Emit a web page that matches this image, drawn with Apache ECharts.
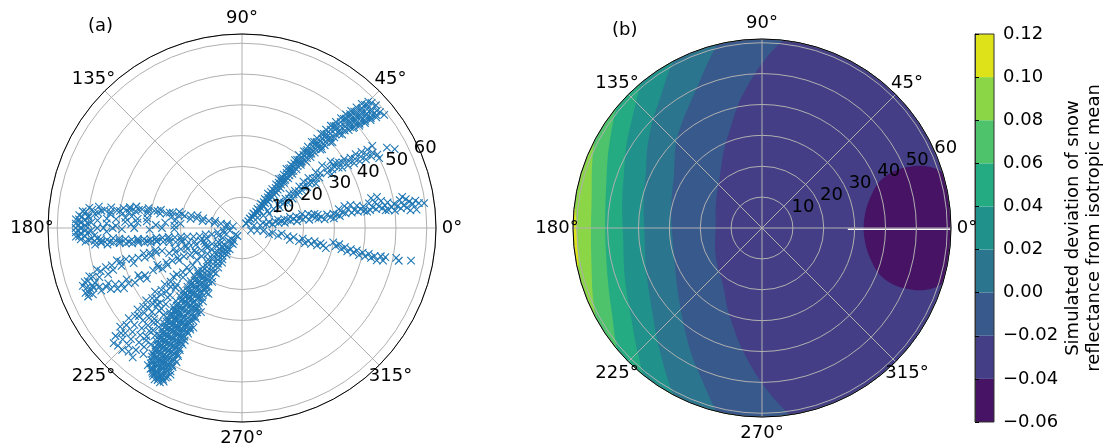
<!DOCTYPE html>
<html><head><meta charset="utf-8">
<style>html,body{margin:0;padding:0;background:#fff}#c{width:1105px;height:448px}</style>
<script src="https://cdn.jsdelivr.net/npm/echarts@6/dist/echarts.min.js"></script>
</head><body><div id="c"></div>
<script>
// ---- panel (a): each row is [zenith, azimuth, azimuth, ...]
const armA=[[2,50,44],[3,47],[4,51,46],[5,49,44],[6,52,47],[7,49,45],[8,51,47,44],[9,49],[10,52,48,45],[11,50,47],[12,52,49,45],[13,50,47],[14,53,49,46],[15,51,47],[16,52,49,46],[17,50,47],[18,52,49,46],[19,51,48],[20,53,50,47],[21,51,48],[22,52,49,47],[23,51,48],[24,53,50,47],[25,51,48],[26,52,50,47],[27,51,48],[28,52,49,47],[29,50,48],[30,52,49,46],[31,50,47],[32,51,49,46],[33,50,47],[34,51,48,46],[35,49,47],[36,51,48,45],[37,49,46],[38,50,48,45],[39,48,46],[40,50,47,44],[41,48,45.5],[42,49.5,47,44.5],[43,48,45],[44,49,46.5,44],[45,47.5,45],[46,48.5,46,43.5],[47,47,44.5,42.5],[48,48,45.5,43],[49,46.5,44,42],[50,47.5,45,42.5],[51,46.5,44,41.5],[52,47,44.5,42],[53,45.5,43,41],[54,46.5,44,41.5],[55,45,42.5,40.5],[56,46,43.5,41],[57,44.5,42,40],[58,45,41],[59,42.5,38.5],
[20.5,51.5,48.5],[24.5,51.5,49],[28.5,51,48],[32.5,50,47.5],[36.5,50,47,44.5],[40.5,49,46,43.5],[44.5,48,45,43],[48.5,47,44.5,42],[50.5,46,43.5,41],[52.5,46,43.5,40.5],[54.5,45,42.5,40],[56.5,45,42.5,39.5],[58.5,44,40]];
const armB=[[6,33],[8,30],[10,34,28],[12,31],[14,33,29],[15,35],[16,31],[17,34,29],[18,32],[19,36,30],[20,33],[21,31,35],[22,33],[23,36,32],[24,34],[25,37,32],[26,34],[27,37,33],[28,35,31],[29,34],[30,37,33],[31,35],[33,38,33],[34,35,31],[35,33],[36,37,34],[37,32,35],[38,31,34],[39,33],[40,30.5,34],[41,32],[42,30,33],[43,31.5],[44,29.5,33],[45,31],[46,29,32.5],[47,30.5],[48,29,32],[49,30],[50,28.5,27,32.2],[53.8,29],[55.8,27.3]];
const armC=[[4,12],[6,8],[7,14],[8,9],[9,12],[10,7],[11,11],[12,8,13],[13,10],[14,7,12],[15,10],[16,8,13],[17,10],[18,7,12],[19,10],[20,8,13],[21,10],[22,7,12],[23,10],[24,8,11],[25,7,10],[26,8],[27,6],[28,9],[29,7],[30,9,6],[31,8],[32,11,7],[33,9],[34,12,8],[35,10],[36,12,8],[37,9],[38,11,8],[39,9],[40,8,10],[41,7.5],[42,11,8],[43,13,9],[44,11,8],[45,13,9],[46,11,8],[47,9,7],[48,10,7],[49,8],[50,9,6.5],[51,8],[52,10,7],[53,11,8],[54,10,7],[55,9,6],[56,8],[57,9,6],[58,8],[59.7,7.8]];
const armD=[[3,345],[5,350],[7,352],[9,347],[10,351],[12,348],[13,352],[15,350],[16,346],[17,350],[19,347],[20,350],[21,346.5],[22,349],[23,347],[24,349.5],[25,347],[26,349],[27,348],[28,346.5],[30,351],[31,349],[32,350.5],[33,348],[34,349.5],[35,347.5],[36,349],[37,347.5],[38,349],[39,347],[40,348.5],[41,347],[42,348.5],[43,347],[44,348],[45,346.5],[46,348.5],[47,347],[47.5,348.5],[51,349],[52,348.2],[55.9,349.1]];
const armE=[[3,170],[5,172,165],[7,168],[9,170,165],[11,168],[13,170,166],[15,168,164],[17,170,166],[19,168],[21,169,165.5],[23,167.5,170.5],[25,169],[27,170,167.5],[29,169],[31,171,168],[33,169.5],[35,171,168.5],[37,172,169.5],[39,170.5,173],[41,172],[43,171,174],[45,172.5],[47,174,171.5],[49,173],[50,175.5,172.5],[51,174],[52,176,174],[53,175.5],
[54,177,178.5,180,181.5,183],[52.5,178,180,182,184],[51,177,179,181,183,185],[49,178,181,184],[47,177,180,184],
[44,176,178,181.5],[41,176,179],[38,177,175],[36,178,174],[34,177,175],[31,174,176],[28,178],[25,176],[22,174,178],[20,176],
[45,180],[42,180],[39,180.5],[35,180],[30,181],[26,180],[22,181],
[48,185,186.5],[46,184.5,186],[44,185,187],[42,184.5,186.5],[40,185,187],[38,185.5,187.5],[36,186,188],[34,186,188],[32,186.5,188.5],[30,187,189],[28,186.5,189],[26,187,190],[24,187,191],[22,188,192],[20,188,193],[18,189,195],[16,190,196],[14,191,197],[12,190,196],[10,192],[8,190,198],[6,188,195],[4,192],
[53,177,179,181,183],[50,176,178.5,181.5,184.5],[48,174.5,183],[46,173,185.5],[43,173,186],[40,172,186],[37,170.5,187],[34,170,187],[31,169.5,188],[28,168.5,188.5],[24,168,189],[20,167,191]];
const armF=[[29,194.2,196],[31,195,197],[33,194.5,197],[35,196],[37,195.6,198],[39,195],[41,195.5,197.5],[42,194.5],[44,196,198],[46,196,199],[48,197],[49,196,199],[51,198,200.5],[52,197.5,201],[53,199,202],[54,199,201,203],[55,200,202.5],[54.7,204],[53,204],[52,202],[25,199],[23,197,200],[21,199],[19,198,201],[16,200],[13,199,203],[27,196]];
const armG=[[50,202.4,204],[48,203.5],[47,205,202.5],[45,204,206],[43,205,207],[41,206,204],[39,207],[37,206.3,204.5],[35,206,208],[32,205.5],[30,205.3,203.5],[29,207],[27,204.5,206.5],[25,205],[23,207.3,205],[21,206],[19,207.5],[17,208,205],[15,209],[13,209.9,207],[11,208],[9,210],[7,207]];
const armH=[[8,214.9],[10,216],[12,215],[14,217],[16,215],[18,215.2],[20,217],[22,215.5],[24,217],[26,215.5],[27.3,215.3],[29,217],[31,216],[33,217.5],[35,216.2],[37,218],[39,217],[41,218.5],[43,217.9],[45,219.5],[47,218.5],[49,220],[50.9,219],[52,221],[54,220.5],[56,221.9],[55.5,223.5,225.5],[54.5,227.5],[55,229.8],[53,223,226],[52.5,229],[51,222,225],[50,228],[49,223.5],[48,226.5],[47,222],[46,225],[46.9,228.7],
[44,220.5,223],[42,221,224],[40,220,223],[38,220.5],[36,219.5,222.5],[34,219.5],[32,220,223],[30,219.5],[28,221],[25,220],[22,219.5],
[37,222,225],[33,223],[29,222],[41,226,228],[44,226,229],[38,225,228],[35,225],[48,229.5,232],[45,228,231],[50,230.5],[52,232],[42,227,230]];
const armI=[[3,225,240],[5,228,238],[6,222,232,240],[8,226,234,240],[9,222,230,237],[10,224,232,240],[11,227,235],[12,222,230,238],[13,225,233,240],[14,227,236],[15,223,231,239],[16,226,234],[17,228,237,240],[18,225,231,235],[19,227,233,239],[20,224,230,236,241],[21,228,234],[22,226,231,237,240],[23,228,233,238],[24,226,230,235,241],[25,228,233,238],[26,227,231,236,240],[27,229,233,238],[28,227,231,235,240],[29,229,233,237,241],[30,228,232,236,240],[31,230,234,238,242],[32,228,232,236,240],[33,230,233,237,241],[34,229,232,235,239,242],[35,231,234,237,240],[36,229,232,235,238,241],[37,231,234,237,240,243],[38,230,233,236,239,242],[39,231,234,237,240],[40,231,234,236,239,242],[41,232,235,238,241,243],[42,232,234.5,237,239.5,242],[43,233,235.5,238,241],[44,232.5,235,237.5,240,242.5],[45,233.5,236,238.5,241],[46,233,235.5,238,240.5,243],[47,234,236.5,239,241.5],[48,234,236,238.5,241,243],[49,235,237,239.5,242],[50,234.5,236.5,238.5,240.5,243],[51,235,237.5,240,242],[52,235.5,237.5,239.5,241.5,243.5],[53,236,238,240,242,244],[54,235.5,237.5,239.5,241.5,243.5],[55,238,240,242],[56,239,241,243],[56.5,241],[30.4,241,244],[33,243],[27,242],[36,244],[24,243],
[20.5,226,232,238],[22.5,228,234,239],[24.5,228,232,237],[26.5,229,234,238],[28.5,229,233,237],[30.5,230,234,238],[32.5,230,234,238,242],[34.5,230.5,233.5,237,241],[36.5,230.5,233.5,236.5,239.5,242.5],[38.5,231.5,234.5,237.5,240.5,243],[40.5,232,235,237.5,240.5],[42.5,233,235.5,238,240.5,243],[44.5,233.5,236,238.5,241,243],[46.5,234,236.5,239,241.5,243.5],[48.5,234.5,237,239.5,242,244],[50.5,235.5,237.5,239.5,241.5,243.5],[52.5,236.5,238.5,240.5,242.5],[54.5,237,239,241,243],[55.5,238.5,240.5,242.5],[56.8,240,242]];

// ---- panel (b): contour boundaries as [azimuth, zenith]
const rimB=61.2, rimA=63;
const contour010=[[172,61.2],[180,60],[189.4,60.3],[193,61.2]];
const contour008=[[152.1,61.2],[167.4,56.5],[180,55.4],[193.3,56.7],[208.6,61.2]];
const contour006=[[140.3,61.2],[151,56.5],[165.2,52.2],[180,50.8],[194.6,51.9],[209.1,55.7],[220,61.2]];
const contour004=[[129.6,61.2],[138.3,55.8],[148,51.7],[160.9,47.5],[180,45.1],[195,46.3],[212.4,50.6],[224.8,56.8],[230.8,61.2]];
const contour002=[[118,61.2],[126.7,54.4],[134.7,50],[144.6,45.5],[157.7,40.9],[180,38.1],[199.2,39.8],[216.1,44.2],[230.5,51.9],[242.1,61.2]];
const contour000=[[103.6,61.2],[112.7,51.9],[121.3,45.9],[134.1,39.7],[151.6,32.6],[180,29.2],[204.9,31],[227.3,38.3],[246.1,50.9],[256.1,61.2]];
const contourM02=[[83.6,61.2],[87.4,56.6],[90,53.3],[98.8,43],[111.9,30.7],[135.5,19.8],[180,15],[228.2,20.4],[248.1,29.2],[261.4,40.5],[270,50.3],[274.8,56.4],[278.5,61.2]];
const contourM04=[[17,61.2],[19.3,58.9],[21.9,54],[23.3,46.4],[20.6,39.8],[11.7,34.7],[0,32.9],[-11.7,34.7],[-20.6,39.8],[-23.3,46.4],[-21.9,54],[-19.3,58.9],[-17,61.2]];
const whiteSeam=[[27.8,359.15],[61,359.6]];

// ---- colour bar
const cbLevels=[-0.06,-0.04,-0.02,0,0.02,0.04,0.06,0.08,0.10,0.12];
const cbColors=['#471365','#433e85','#38598c','#2b758e','#21918c','#25ab82','#4ec36b','#8bd646','#dde318'];
const cbLabel='Simulated deviation of snow\nreflectance from isotropic mean';

const radiusTicks=[10,20,30,40,50,60];
const angleTicks=[0,45,90,135,180,225,270,315];
const radiusLabelAngle=22.5;

const FONT='DejaVu Sans', FS=18, BLUE='#1f77b4', GRID='#b0b0b0';
const flat=rows=>rows.flatMap(r=>r.slice(1).map(a=>[r[0],a]));
const scatterData=[armA,armB,armC,armD,armE,armF,armG,armH,armI].flatMap(flat);

const regions=[
 {color:cbColors[8],pts:null},
 {color:cbColors[7],pts:contour010},
 {color:cbColors[6],pts:contour008},
 {color:cbColors[5],pts:contour006},
 {color:cbColors[4],pts:contour004},
 {color:cbColors[3],pts:contour002},
 {color:cbColors[2],pts:contour000},
 {color:cbColors[1],pts:contourM02},
 {color:cbColors[0],pts:contourM04}
];
function spline(p){
  const out=[];
  for(let i=0;i<p.length-1;i++){
    const a=p[Math.max(i-1,0)],b=p[i],c=p[i+1],d=p[Math.min(i+2,p.length-1)];
    for(let k=0;k<8;k++){
      const t=k/8,t2=t*t,t3=t2*t;
      const f=j=>0.5*(2*b[j]+(c[j]-a[j])*t+(2*a[j]-5*b[j]+4*c[j]-d[j])*t2+(3*b[j]-a[j]-3*c[j]+d[j])*t3);
      out.push([f(0),Math.min(f(1),rimB)]);
    }
  }
  out.push(p[p.length-1]);
  return out;
}
function regionShape(params,api){
  const reg=regions[params.dataIndex];
  let poly=[];
  if(!reg.pts){ for(let a=0;a<360;a+=2) poly.push([a,rimB]); }
  else{
    poly=spline(reg.pts);
    const first=reg.pts[0][0],last=reg.pts[reg.pts.length-1][0];
    let end=first; while(end<last) end+=360;
    for(let a=last+1;a<end;a+=1) poly.push([a,rimB]);
  }
  return {type:'polygon',shape:{points:poly.map(q=>api.coord([q[1],q[0]]))},style:{fill:reg.color,stroke:null}};
}
function angleAxis(i){return {polarIndex:i,type:'value',min:0,max:360,interval:45,startAngle:0,clockwise:false,z:3,
  axisLine:{show:true,lineStyle:{color:'#000',width:1}},axisTick:{show:false},
  splitLine:{show:true,lineStyle:{color:GRID,width:1}},axisLabel:{show:false}};}
function radiusAxis(i,max){return {polarIndex:i,type:'value',min:0,max:max,interval:10,z:3,
  axisLine:{show:false},axisTick:{show:false},axisLabel:{show:false},
  splitLine:{show:true,lineStyle:{color:GRID,width:1}}};}
const textStyle={color:'#000',fontFamily:FONT,fontSize:FS,opacity:1};
function radiusLabels(i){return {type:'scatter',coordinateSystem:'polar',polarIndex:i,z:6,symbolSize:0,silent:true,clip:false,
  data:radiusTicks.map(r=>[r,radiusLabelAngle]),
  label:Object.assign({show:true,position:'inside',offset:[12.5,-9],formatter:p=>String(p.value[0])},textStyle)};}
function angleLabels(i,rim){return {type:'scatter',coordinateSystem:'polar',polarIndex:i,z:6,symbolSize:0,silent:true,clip:false,
  data:angleTicks.map(a=>({value:[rim,a],label:{offset:[16*Math.cos(a*Math.PI/180),-16*Math.sin(a*Math.PI/180)]}})),
  label:Object.assign({show:true,position:'inside',formatter:p=>p.value[1]+'°'},textStyle)};}

const chart=echarts.init(document.getElementById('c'),null,{renderer:'canvas'});
chart.setOption({
 animation:false,backgroundColor:'#fff',
 title:[
  {text:'(a)',left:83,top:12,textStyle:{fontFamily:FONT,fontSize:FS,fontWeight:'normal',color:'#000'}},
  {text:'(b)',left:607,top:16,textStyle:{fontFamily:FONT,fontSize:FS,fontWeight:'normal',color:'#000'}}],
 polar:[{center:[242,228],radius:194},{center:[762,228],radius:189}],
 angleAxis:[angleAxis(0),angleAxis(1)],
 radiusAxis:[radiusAxis(0,rimA),radiusAxis(1,rimB)],
 grid:{left:975,top:34,width:19,height:388,z:5,show:true,borderColor:'#333',borderWidth:1,backgroundColor:'transparent',outerBoundsMode:'none',containLabel:false},
 xAxis:{type:'value',min:0,max:1,show:false},
 yAxis:{type:'value',position:'right',min:-0.06,max:0.12,interval:0.02,z:5,
  axisLine:{show:true,lineStyle:{color:'#333'}},splitLine:{show:false},
  axisTick:{show:true,length:4,lineStyle:{color:'#000'}},
  axisLabel:{margin:9,color:'#000',fontFamily:FONT,fontSize:FS,formatter:v=>v.toFixed(2).replace('-','\u2212')},
  name:cbLabel,nameLocation:'middle',nameRotate:90,nameGap:69,
  nameTextStyle:{fontFamily:FONT,fontSize:FS,color:'#000',lineHeight:21}},
 series:[
  {type:'scatter',coordinateSystem:'polar',polarIndex:0,z:4,silent:true,clip:false,
   data:scatterData,symbol:'path://M0,0L10,10M10,0L0,10',symbolSize:7.5,
   itemStyle:{color:'none',borderColor:BLUE,borderWidth:1.1,opacity:1}},
  radiusLabels(0),angleLabels(0,rimA),
  {type:'custom',coordinateSystem:'polar',polarIndex:1,z:1,silent:true,clip:false,
   data:regions.map((_,i)=>[i,0]),renderItem:regionShape},
  {type:'line',coordinateSystem:'polar',polarIndex:1,z:2,silent:true,symbol:'none',clip:false,
   data:whiteSeam,lineStyle:{color:'#fff',width:1.5}},
  radiusLabels(1),angleLabels(1,rimB),
  {type:'custom',coordinateSystem:'cartesian2d',z:1,silent:true,
   data:cbColors.map((c,i)=>[cbLevels[i],cbLevels[i+1],i]),
   encode:{y:[0,1]},
   renderItem:(p,api)=>{
     const a=api.coord([0,api.value(0)]),b=api.coord([1,api.value(1)]);
     return {type:'rect',shape:{x:a[0],y:b[1],width:b[0]-a[0],height:a[1]-b[1]},style:{fill:cbColors[api.value(2)]}};
   }}
 ]
});
</script></body></html>
